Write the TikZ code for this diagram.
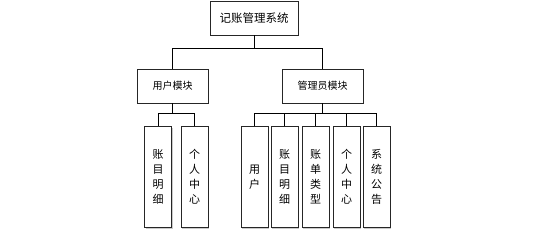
\documentclass[tikz,border=0pt]{standalone}
\usepackage{fontspec}
\newfontfamily\cjk{Noto Sans CJK SC}
\usetikzlibrary{shadows}
\tikzset{
  box/.style={draw=black!85, line width=0.9pt, fill=white, inner sep=0pt,
    drop shadow={shadow xshift=1.2pt, shadow yshift=-1.2pt, fill=black!35, opacity=0.6}},
  rootbox/.style={box, minimum width=88pt, minimum height=34pt, font=\cjk\fontsize{11.5}{14}\selectfont},
  modbox/.style={box, minimum height=34pt, font=\cjk\fontsize{10}{12}\selectfont},
  leafbox/.style={box, minimum width=27pt, minimum height=101pt, align=center, font=\cjk\fontsize{11}{15}\selectfont},
  conn/.style={draw=black, line width=0.8pt}
}
\begin{document}
\begin{tikzpicture}[x=1pt,y=-1pt]
\useasboundingbox (0,0) rectangle (544,237);
\node[rootbox] (root) at (254,18) {记账管理系统};
\node[modbox, minimum width=71pt] (um) at (172.5,86) {用户模块};
\node[modbox, minimum width=81pt] (am) at (322.5,86) {管理员模块};
\node[leafbox] (u1) at (158,177) {账\\目\\明\\细};
\node[leafbox] (u2) at (194.5,177) {个\\人\\中\\心};
\node[leafbox] (a1) at (254.5,177) {用\\户};
\node[leafbox] (a2) at (284.5,177) {账\\目\\明\\细};
\node[leafbox] (a3) at (315.5,177) {账\\单\\类\\型};
\node[leafbox] (a4) at (346.5,177) {个\\人\\中\\心};
\node[leafbox] (a5) at (376.5,177) {系\\统\\公\\告};
\coordinate (j0) at (254,48);
\coordinate (j1) at (172.5,113);
\coordinate (j2) at (322.5,113);
\draw[conn] (root.south) -- (j0);
\draw[conn] (j0) -| (um.north);
\draw[conn] (j0) -| (am.north);
\draw[conn] (um.south) -- (j1);
\draw[conn] (j1) -| (u1.north);
\draw[conn] (j1) -| (u2.north);
\draw[conn] (am.south) -- (j2);
\foreach \n in {a1,a2,a3,a4,a5} \draw[conn] (j2) -| (\n.north);
\end{tikzpicture}
\end{document}
